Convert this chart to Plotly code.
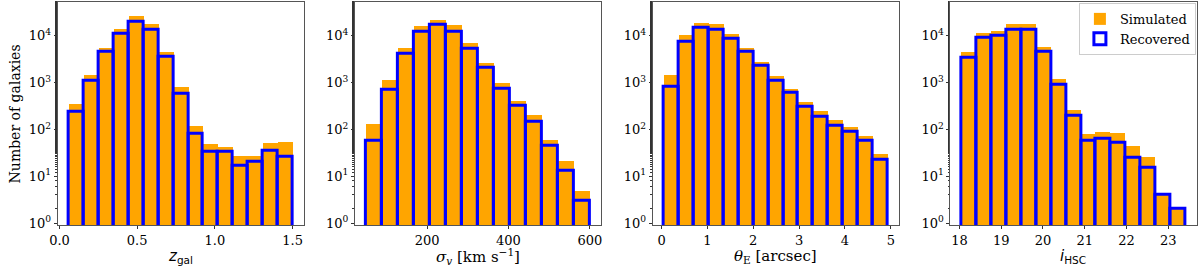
import numpy as np
import plotly.graph_objects as go

# ---- data ----
zgal_bins = (0.06, 1.50, 15)
zgal_sim = [355, 1500, 5500, 14000, 26500, 18300, 4700, 820, 119, 49, 43, 27, 28, 51, 55]
zgal_rec = [240, 1100, 4650, 11200, 20300, 13600, 3550, 580, 80, 33, 34, 17, 20, 36, 26]

sigv_bins = (50, 600, 14)
sigv_sim = [133, 1170, 5700, 16200, 22300, 17000, 7000, 2700, 980, 415, 203, 60, 22, 5]
sigv_rec = [57, 705, 4100, 12100, 17300, 12500, 5450, 2100, 760, 316, 149, 44, 13, 3]

thetaE_bins = (0.05, 4.93, 15)
thetaE_sim = [1470, 10500, 19200, 18300, 11400, 5700, 2800, 1420, 750, 385, 252, 159, 117, 75, 31]
thetaE_rec = [825, 7500, 15100, 13700, 8800, 4650, 2330, 1100, 610, 307, 190, 121, 89, 57, 23]

ihsc_bins = (18.05, 23.41, 15)
ihsc_sim = [4570, 11700, 12900, 18300, 18300, 6000, 1200, 265, 80, 91, 85, 44, 26, 4, 2]
ihsc_rec = [3480, 9100, 10000, 13700, 13700, 4650, 910, 196, 57, 64, 53, 25, 15, 4, 2]

x_ticks = [[0.0, 0.5, 1.0, 1.5], [200, 400, 600], [0, 1, 2, 3, 4, 5], [18, 19, 20, 21, 22, 23]]
x_ticktext = [["0.0", "0.5", "1.0", "1.5"], ["200", "400", "600"],
              ["0", "1", "2", "3", "4", "5"], ["18", "19", "20", "21", "22", "23"]]
y_tickvals = [1, 10, 100, 1000, 10000]
y_ticktext = ["10<sup>0</sup>", "10<sup>1</sup>", "10<sup>2</sup>", "10<sup>3</sup>", "10<sup>4</sup>"]

x_titles = [
    '<span style="font-family:DejaVu Sans"><i>z</i><sub>gal</sub></span>',
    '<i>σ</i><sub><i>v</i></sub> [km s<sup>−1</sup>]',
    '<i>θ</i><sub>E</sub> [arcsec]',
    '<span style="font-family:DejaVu Sans"><i>i</i><sub>HSC</sub></span>',
]
y_title = "Number of galaxies"

panels = [
    (zgal_bins, zgal_sim, zgal_rec),
    (sigv_bins, sigv_sim, sigv_rec),
    (thetaE_bins, thetaE_sim, thetaE_rec),
    (ihsc_bins, ihsc_sim, ihsc_rec),
]

W, H = 1200, 272
left_px = [50, 349.5, 649.5, 949.5]
width_px = 248
top_px, bot_px = 1.7, 230

ORANGE = "#FFA500"
BLUE = "#0000FF"
FONT = "DejaVu Serif"

fig = go.Figure()
for i, ((lo, hi, n), sim, rec) in enumerate(panels):
    edges = np.linspace(lo, hi, n + 1)
    centers = (edges[:-1] + edges[1:]) / 2
    widths = np.diff(edges)
    ax = "" if i == 0 else str(i + 1)
    fig.add_trace(go.Bar(
        x=centers, y=sim, width=widths, base=1e-3, name="Simulated",
        marker=dict(color=ORANGE, line=dict(width=0)),
        showlegend=(i == 3), legendrank=1,
        xaxis="x" + ax, yaxis="y" + ax,
    ))
    fig.add_trace(go.Bar(
        x=centers, y=rec, width=widths, base=1e-3, name="Recovered",
        marker=dict(color="rgba(255,255,255,0)", line=dict(color=BLUE, width=3)),
        showlegend=(i == 3), legendrank=2,
        xaxis="x" + ax, yaxis="y" + ax,
    ))
    span = hi - lo
    xr = [lo - 0.05 * span, hi + 0.05 * span]
    xdom = [left_px[i] / W, (left_px[i] + width_px) / W]
    ydom = [1 - bot_px / H, 1 - top_px / H]
    fig.layout["xaxis" + ax] = dict(
        domain=xdom, range=xr, anchor="y" + ax,
        tickvals=x_ticks[i], ticktext=x_ticktext[i],
        ticks="outside", ticklen=3, tickwidth=1, tickcolor="#333",
        showline=True, linecolor="#555", linewidth=1, mirror=True,
        showgrid=False, zeroline=False,
        tickfont=dict(family=FONT, size=13, color="#000"),
    )
    fig.layout["yaxis" + ax] = dict(
        domain=ydom, type="log", range=[-0.04, 4.73], anchor="x" + ax,
        tickvals=y_tickvals, ticktext=y_ticktext,
        ticks="outside", ticklen=3, tickwidth=1, tickcolor="#333",
        minor=dict(ticks="outside", ticklen=1.5, tickcolor="#333", showgrid=False),
        showline=True, linecolor="#555", linewidth=1, mirror=True,
        showgrid=False, zeroline=False,
        tickfont=dict(family=FONT, size=13, color="#000"),
    )
    fig.add_annotation(
        text=x_titles[i], xref="paper", yref="paper",
        x=(left_px[i] + width_px / 2) / W, y=1 - 262.5 / H,
        xanchor="center", yanchor="middle", showarrow=False, borderpad=0,
        font=dict(family=FONT, size=15, color="#000"),
    )

fig.add_annotation(
    text=y_title, xref="paper", yref="paper",
    x=8 / W, y=1 - 116 / H, xanchor="center", yanchor="middle",
    textangle=-90, showarrow=False, borderpad=0,
    font=dict(family=FONT, size=14, color="#000"),
)

fig.update_layout(
    width=W, height=H,
    margin=dict(l=0, r=0, t=0, b=0),
    paper_bgcolor="white", plot_bgcolor="white",
    barmode="overlay", bargap=0,
    legend=dict(
        x=1079 / W, y=1 - 3 / H, xanchor="left", yanchor="top",
        bgcolor="rgba(255,255,255,0.8)", bordercolor="#ccc", borderwidth=1,
        font=dict(family=FONT, size=13, color="#000"),
        tracegroupgap=0, itemwidth=30,
    ),
)

fig.write_html(
    "out.html",
    config={"displayModeBar": False},
    post_script="document.body.style.margin='0';document.body.style.overflow='hidden';",
)
